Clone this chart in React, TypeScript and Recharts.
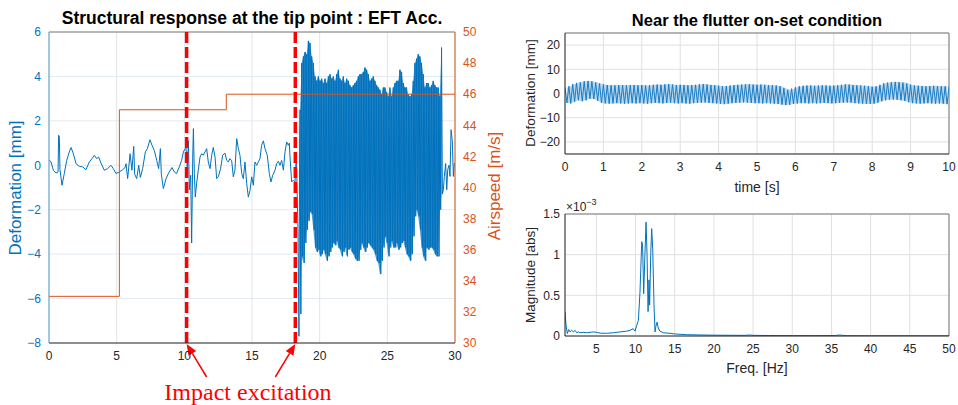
import React from 'react';
import { ComposedChart, Line, Area, XAxis, YAxis, CartesianGrid, ReferenceLine } from 'recharts';

const BLUE = '#0072BD';
const ORANGE = '#D95319';
const DARK = '#262626';
const FONT = '"Liberation Sans", Arial, Helvetica, sans-serif';

// ---------- Left panel: structural response ----------
const sparseTime = [0, 0.15, 0.32, 0.52, 0.67, 0.71, 0.76, 0.81, 0.96, 1.13, 1.31, 1.5, 1.63, 1.8, 2.0, 2.24, 2.49, 2.73, 2.98, 3.18, 3.35, 3.52, 3.67, 3.84, 4.09, 4.33, 4.58, 4.75, 4.95, 5.2, 5.44, 5.62, 5.69, 5.81, 5.99, 6.13, 6.26, 6.33, 6.48, 6.63, 6.75, 6.92, 7.12, 7.27, 7.46, 7.61, 7.78, 7.96, 8.1, 8.23, 8.3, 8.45, 8.65, 8.84, 9.09, 9.26, 9.43, 9.63, 9.8, 9.93, 10.07,
  10.12, 10.22, 10.3, 10.37, 10.47, 10.54, 10.62, 10.67, 10.74, 10.81, 10.91, 11.03, 11.16, 11.28, 11.4, 11.53, 11.65, 11.77, 11.9, 12.02, 12.14, 12.27, 12.39, 12.51, 12.68, 12.83, 13.0, 13.13, 13.25, 13.37, 13.5, 13.62, 13.74, 13.87, 13.99, 14.11, 14.24, 14.36, 14.48, 14.61, 14.73, 14.85, 14.98, 15.1, 15.22, 15.35, 15.47, 15.59, 15.71, 15.84, 15.96, 16.13, 16.28, 16.4, 16.53, 16.7, 16.82, 16.95, 17.07, 17.19, 17.32, 17.44, 17.56, 17.68, 17.76, 17.81, 17.93, 18.05, 18.18, 18.28, 18.4, 18.47, 18.52];
const sparseDeform = [0.25, 0.15, -0.22, -0.35, -0.3, 1.35, 1.3, -0.2, -0.9, -0.37, 0.22, 0.6, 0.8, 0.52, 0.07, -0.05, -0.07, -0.2, 0.15, 0.3, 0.45, 0.3, 0.37, 0.1, -0.22, -0.15, 0, -0.15, -0.37, -0.3, -0.2, -0.1, 0.07, -0.6, 0.52, -0.22, 0.85, -0.4, -0.6, 0, -0.55, -0.15, 0.6, 0.75, 1.15, 0.9, 0.67, 0.22, -0.15, 0.75, -0.4, -1.05, -0.6, -0.35, -0.1, -0.3, -0.37, -0.07, 0.22, 0.6, 0.75,
  0.83, -0.2, 1.1, -1.1, -0.45, -3.5, 0.37, 1.65, -0.37, -1.43, -0.8, -0.22, 0.37, 0.52, 0.45, 0.6, 0.75, 0.15, -0.15, 0.45, 0.8, 0.37, -0.6, -0.52, -0.15, 0.45, 0.55, 0.22, 0.15, 0.3, 0.2, -0.52, -0.22, 1.2, 0.75, 0.45, -0.37, -0.6, 0.15, -0.83, -1.43, -1.13, -0.52, -0.9, 0.15, 0, 0.15, 0.3, 0.9, 1.1, 0.75, 0.45, -0.37, -0.75, -0.45, -0.22, 0.07, 0.18, 0, 0.22, -0.22, 0.6, 1.05, 0.9, 1.0, 0.37, -0.75, -0.67, -0.75, 0.5, -3.0, -7.7, 1.0];

// flutter-like oscillation: upper and lower peaks read every 0.123 s from 18.55 s
const denseStart = 18.55;
const denseStep = 0.123;
const denseUpper = [2.5, 4.6, 4.9, 5.1, 5.0, 5.6, 5.5, 4.9, 4.6, 4.0, 3.8, 4.0, 3.8, 3.9, 3.7, 3.9, 3.7, 4.0, 4.1, 3.9, 4.0, 3.8, 4.1, 4.3, 3.9, 3.8, 4.0, 3.7, 3.9, 3.8, 3.6, 3.5, 3.6, 3.7, 3.8, 4.0, 4.1, 4.1, 4.2, 4.4, 4.3, 4.1, 3.8, 3.9, 4.0, 3.8, 3.6, 3.5,
  3.4, 3.2, 3.5, 3.5, 3.3, 3.1, 3.5, 3.1, 3.5, 3.7, 3.8, 3.8, 4.3, 4.2, 3.7, 3.5, 3.5, 3.2, 3.1, 3.2, 3.8, 4.6, 4.8, 5.0, 4.9, 4.6, 4.1, 3.5, 3.7, 3.7, 3.5, 3.6, 3.8, 3.6, 3.5, 3.5, 3.1, 5.3];
const denseLower = [-6.7, -4.1, -4.4, -3.5, -2.9, -2.5, -2.1, -2.2, -2.9, -3.7, -3.9, -3.8, -4.1, -4.0, -3.8, -4.0, -4.3, -4.1, -3.9, -3.7, -3.5, -3.6, -3.4, -3.7, -3.8, -4.1, -3.9, -3.7, -4.1, -3.8, -3.7, -3.9, -4.0, -4.2, -4.3, -4.3, -3.8, -3.5, -3.7, -3.9, -3.7, -3.5, -3.6, -3.7, -3.8, -4.0, -4.3, -4.4,
  -4.9, -4.3, -3.7, -3.2, -3.5, -4.1, -3.7, -3.4, -3.7, -3.7, -3.5, -3.8, -3.7, -3.5, -3.4, -3.7, -4.0, -4.1, -4.3, -4.0, -3.2, -2.3, -2.0, -2.3, -2.9, -3.7, -4.1, -4.3, -3.7, -3.8, -3.7, -3.7, -3.8, -4.0, -4.1, -4.1, -2.0, -1.3];
const tailTime = [29.14, 29.21, 29.31, 29.39, 29.46, 29.56, 29.63, 29.71, 29.8, 29.88, 29.95, 30.0];
const tailDeform = [-1.1, -0.5, 0.08, -1.1, -0.2, 0.0, -0.5, 1.6, 1.1, -0.5, 0.08, 0.1];

const speedTime = [0, 5.2, 13.1, 30];
const speedValue = [33, 45, 46, 46];
const impactTimes = [10.17, 18.2];

const leftXTicks = [0, 5, 10, 15, 20, 25, 30];
const leftYTicks = [-8, -6, -4, -2, 0, 2, 4, 6];
const rightYTicks = [30, 32, 34, 36, 38, 40, 42, 44, 46, 48, 50];

// ---------- Right top: time response ----------
const topUpper = [2.5, 3.0, 3.9, 4.4, 4.7, 5.1, 5.2, 5.0, 4.5, 4.1,
  3.7, 3.5, 3.4, 3.4, 3.5, 3.5, 3.4, 3.5, 3.5, 3.4,
  3.5, 3.3, 3.4, 3.6, 3.7, 3.6, 3.8, 3.9, 3.7, 3.5,
  3.6, 3.5, 3.4, 3.5, 3.6, 3.8, 3.9, 3.7, 3.5, 3.4,
  3.2, 3.0, 3.1, 3.3, 3.5, 3.6, 3.7, 3.9, 3.8, 3.7,
  3.6, 3.7, 3.6, 3.5, 3.4, 3.3, 3.0, 2.2, 1.5, 2.0,
  2.6, 3.0, 3.2, 3.3, 3.3, 3.2, 3.3, 3.4, 3.3, 3.2,
  3.3, 3.4, 3.6, 3.8, 3.7, 3.5, 3.4, 3.3, 3.2, 3.0,
  2.8, 3.0, 3.6, 4.2, 4.5, 4.7, 4.8, 4.7, 4.5, 4.1,
  3.6, 3.3, 3.2, 3.1, 3.0, 3.1, 3.2, 3.1, 3.0, 3.0, 3.0];
const topLower = [-3.9, -4.1, -3.4, -2.8, -3.2, -2.8, -2.2, -2.3, -3.0, -3.9,
  -4.1, -4.2, -4.1, -4.0, -4.1, -4.2, -4.1, -4.0, -4.1, -4.0,
  -4.1, -4.2, -4.0, -3.9, -4.0, -4.1, -3.9, -3.8, -4.0, -4.1,
  -4.0, -4.1, -4.2, -4.0, -3.9, -3.8, -3.7, -3.9, -4.0, -4.1,
  -4.3, -4.4, -4.2, -4.0, -3.9, -3.8, -3.7, -3.8, -3.9, -4.0,
  -4.0, -4.1, -4.0, -4.1, -4.2, -4.3, -4.6, -4.8, -4.7, -4.3,
  -4.1, -4.0, -4.0, -4.1, -4.0, -4.1, -4.0, -3.9, -4.0, -4.1,
  -4.0, -3.9, -3.8, -3.7, -3.8, -4.0, -4.1, -4.2, -4.3, -4.3,
  -4.2, -3.8, -3.2, -2.8, -2.6, -2.5, -2.6, -2.8, -3.1, -3.6,
  -4.0, -4.1, -4.2, -4.1, -4.0, -4.1, -4.2, -4.1, -4.2, -4.4];
const topPeakSpacing = 0.1;
const topXTicks = [0, 1, 2, 3, 4, 5, 6, 7, 8, 9, 10];
const topYTicks = [-20, -10, 0, 10, 20];

// ---------- Right bottom: spectrum (x 1e-3) ----------
const specFreq = [1.0, 1.13, 1.3, 1.47, 1.64, 1.85, 2.06, 2.28, 2.5, 2.7, 2.9, 3.3, 3.77, 4.2, 4.6, 5.0, 5.5, 6.3, 7.2, 8.0, 8.9, 9.3, 9.7, 9.94, 10.15, 10.36, 10.57, 10.79, 10.9, 11.04, 11.2, 11.34, 11.47, 11.6, 11.72, 11.8, 11.94, 12.06, 12.19, 12.36, 12.49, 12.6, 12.74, 12.9, 13.1, 13.55, 14.4, 15.0, 16.5, 18, 20, 22, 24, 24.5, 25, 27, 30, 33, 35.5, 36, 36.5, 37, 40, 45, 50];
const specMag = [0.30, 0.13, 0.03, 0.08, 0.05, 0.07, 0.05, 0.07, 0.04, 0.05, 0.04, 0.045, 0.04, 0.045, 0.05, 0.045, 0.035, 0.033, 0.04, 0.05, 0.06, 0.07, 0.09, 0.06, 0.13, 0.19, 0.54, 1.16, 1.12, 0.52, 1.0, 1.40, 1.0, 0.30, 0.69, 0.38, 1.0, 1.32, 1.08, 0.38, 0.05, 0.12, 0.17, 0.10, 0.06, 0.04, 0.033, 0.025, 0.016, 0.013, 0.01, 0.009, 0.008, 0.012, 0.008, 0.006, 0.005, 0.005, 0.006, 0.012, 0.008, 0.004, 0.003, 0.003, 0.002];
const specXTicks = [5, 10, 15, 20, 25, 30, 35, 40, 45, 50];
const specYTicks = [0, 0.5, 1, 1.5];

// ---------- build tables ----------
const deformData: { t: number; d: number }[] = [];
sparseTime.forEach((t, i) => deformData.push({ t, d: sparseDeform[i] }));
denseUpper.forEach((u, k) => {
  deformData.push({ t: denseStart + k * denseStep, d: u });
  deformData.push({ t: denseStart + (k + 0.5) * denseStep, d: denseLower[k] });
});
tailTime.forEach((t, i) => deformData.push({ t, d: tailDeform[i] }));
const denseBand = denseUpper.map((u, k) => ({ t: denseStart + k * denseStep, r: [denseLower[k], u] }));

const speedData = speedTime.map((t, i) => ({ t, s: speedValue[i] }));

const topData: { t: number; v: number }[] = [];
topUpper.forEach((u, i) => {
  topData.push({ t: i * topPeakSpacing, v: u });
  if (i < topLower.length) topData.push({ t: (i + 0.5) * topPeakSpacing, v: topLower[i] });
});
const topBand = topLower.map((l, i) => ({ t: (i + 0.5) * topPeakSpacing, r: [l, topUpper[i]] }));

const specData = specFreq.map((f, i) => ({ f, m: specMag[i] }));

const minus = (v: number) => String(v).replace('-', '\u2212');

const arrowLabel = (dir: number) => (props: any) => {
  const vb = props.viewBox;
  if (!vb) return null;
  const tipX = vb.x;
  const tipY = vb.y + vb.height + 1;
  const tailX = tipX + dir * 20;
  const tailY = tipY + 33;
  const ang = Math.atan2(tipY - tailY, tipX - tailX);
  const L = 11;
  const W = 4.5;
  const bx = tipX - L * Math.cos(ang);
  const by = tipY - L * Math.sin(ang);
  const p1x = bx + W * Math.sin(ang);
  const p1y = by - W * Math.cos(ang);
  const p2x = bx - W * Math.sin(ang);
  const p2y = by + W * Math.cos(ang);
  return (
    <g>
      <line x1={tailX} y1={tailY} x2={bx} y2={by} stroke="#FF0000" strokeWidth={1.5} />
      <polygon points={`${tipX},${tipY} ${p1x},${p1y} ${p2x},${p2y}`} fill="#FF0000" />
    </g>
  );
};

const tickStyle = (fill: string) => ({ fill, fontSize: 12, fontFamily: FONT });

export default function App() {
  return (
    <div style={{ position: 'absolute', left: 0, top: 0, width: 958, height: 405, background: '#fff', fontFamily: FONT }}>
      <div style={{ position: 'absolute', left: 0, top: 0 }}>
        <ComposedChart width={500} height={405} margin={{ top: 32, right: 5, bottom: 32, left: 0 }}>
          <CartesianGrid yAxisId="left" vertical={false} stroke="#e2ebf4" />
          <CartesianGrid yAxisId="left" horizontal={false} stroke="#e4e4e4" />
          <XAxis dataKey="t" type="number" domain={[0, 30]} ticks={leftXTicks} allowDataOverflow height={30}
            axisLine={{ stroke: DARK }} tickLine={false} tick={tickStyle(DARK)} />
          <YAxis yAxisId="left" domain={[-8, 6]} ticks={leftYTicks} width={49} allowDataOverflow
            axisLine={{ stroke: '#4f9bd3' }} tickLine={false} tick={tickStyle(BLUE)} tickFormatter={minus} />
          <YAxis yAxisId="right" orientation="right" domain={[30, 50]} ticks={rightYTicks} width={40}
            axisLine={{ stroke: ORANGE }} tickLine={false} tick={tickStyle(ORANGE)} />
          <ReferenceLine yAxisId="left" y={6} stroke="#7a7a7a" strokeWidth={1} />
          <Area data={denseBand} dataKey="r" yAxisId="left" type="linear" stroke="none" fill="#1f7fc4"
            fillOpacity={0.8} isAnimationActive={false} />
          <Line data={deformData} dataKey="d" yAxisId="left" type="linear" stroke={BLUE} strokeWidth={1}
            dot={false} isAnimationActive={false} />
          <Line data={speedData} dataKey="s" yAxisId="right" type="stepAfter" stroke={ORANGE} strokeWidth={1}
            dot={false} isAnimationActive={false} />
          {impactTimes.map((t, i) => (
            <ReferenceLine key={t} yAxisId="left" x={t} stroke="#FF0000" strokeWidth={3.5} strokeDasharray="11 4"
              label={arrowLabel(i === 0 ? 1 : -1)} />
          ))}
        </ComposedChart>
      </div>

      <div style={{ position: 'absolute', left: 490, top: 0 }}>
        <ComposedChart width={468} height={195} margin={{ top: 33, right: 9, bottom: 11, left: 0 }}>
          <CartesianGrid stroke="#e0e0e0" />
          <XAxis dataKey="t" type="number" domain={[0, 10]} ticks={topXTicks} allowDataOverflow height={30}
            axisLine={{ stroke: DARK }} tickLine={false} tick={tickStyle(DARK)} />
          <YAxis domain={[-25, 25]} ticks={topYTicks} width={75} allowDataOverflow tickSize={3} tickMargin={2}
            axisLine={{ stroke: DARK }} tickLine={false} tick={tickStyle(DARK)} tickFormatter={minus} />
          <ReferenceLine y={25} stroke="#7a7a7a" />
          <ReferenceLine x={10} stroke="#7a7a7a" />
          <Area data={topBand} dataKey="r" type="linear" stroke="none" fill="#8cc0e8" fillOpacity={0.6}
            isAnimationActive={false} />
          <Line data={topData} dataKey="v" type="linear" stroke="#1a7cc2" strokeWidth={1} dot={false}
            isAnimationActive={false} />
        </ComposedChart>
      </div>

      <div style={{ position: 'absolute', left: 490, top: 195 }}>
        <ComposedChart width={468} height={210} margin={{ top: 19, right: 9, bottom: 39, left: 0 }}>
          <CartesianGrid stroke="#e0e0e0" />
          <XAxis dataKey="f" type="number" domain={[1, 50]} ticks={specXTicks} allowDataOverflow height={30}
            axisLine={{ stroke: DARK }} tickLine={false} tick={tickStyle(DARK)} />
          <YAxis domain={[0, 1.5]} ticks={specYTicks} width={75} allowDataOverflow tickSize={3} tickMargin={2}
            axisLine={{ stroke: DARK }} tickLine={false} tick={tickStyle(DARK)} />
          <ReferenceLine y={1.5} stroke="#7a7a7a" />
          <ReferenceLine x={50} stroke="#7a7a7a" />
          <Line data={specData} dataKey="m" type="linear" stroke={BLUE} strokeWidth={1} dot={false}
            isAnimationActive={false} />
        </ComposedChart>
      </div>

      <svg width={958} height={405} style={{ position: 'absolute', left: 0, top: 0, pointerEvents: 'none' }}>
        <text x={252} y={24} textAnchor="middle" fontSize={17.5} fontWeight="bold" fill="#000" fontFamily={FONT}>
          Structural response at the tip point : EFT Acc.
        </text>
        <text transform="translate(21,188) rotate(-90)" textAnchor="middle" fontSize={17} fill={BLUE} fontFamily={FONT}>
          Deformation [mm]
        </text>
        <text transform="translate(500,186) rotate(-90)" textAnchor="middle" fontSize={17} fill={ORANGE} fontFamily={FONT}>
          Airspeed [m/s]
        </text>
        <text x={248} y={400} textAnchor="middle" fontSize={24} fill="#FF0000"
          fontFamily='"Liberation Serif", "Times New Roman", serif'>
          Impact excitation
        </text>
        <text x={757} y={26} textAnchor="middle" fontSize={16.5} fontWeight="bold" fill="#000" fontFamily={FONT}>
          Near the flutter on-set condition
        </text>
        <text transform="translate(535,93) rotate(-90)" textAnchor="middle" fontSize={13.5} fill={DARK} fontFamily={FONT}>
          Deformation [mm]
        </text>
        <text x={757} y={192} textAnchor="middle" fontSize={14} fill={DARK} fontFamily={FONT}>
          time [s]
        </text>
        <text transform="translate(535,275) rotate(-90)" textAnchor="middle" fontSize={13.5} fill={DARK} fontFamily={FONT}>
          Magnitude [abs]
        </text>
        <text x={757} y={373} textAnchor="middle" fontSize={14} fill={DARK} fontFamily={FONT}>
          Freq. [Hz]
        </text>
        <text x={566} y={211} fontSize={12} fill={DARK} fontFamily={FONT}>
          {'\u00d710'}
          <tspan dy={-6} fontSize={9}>{'\u22123'}</tspan>
        </text>
      </svg>
    </div>
  );
}
